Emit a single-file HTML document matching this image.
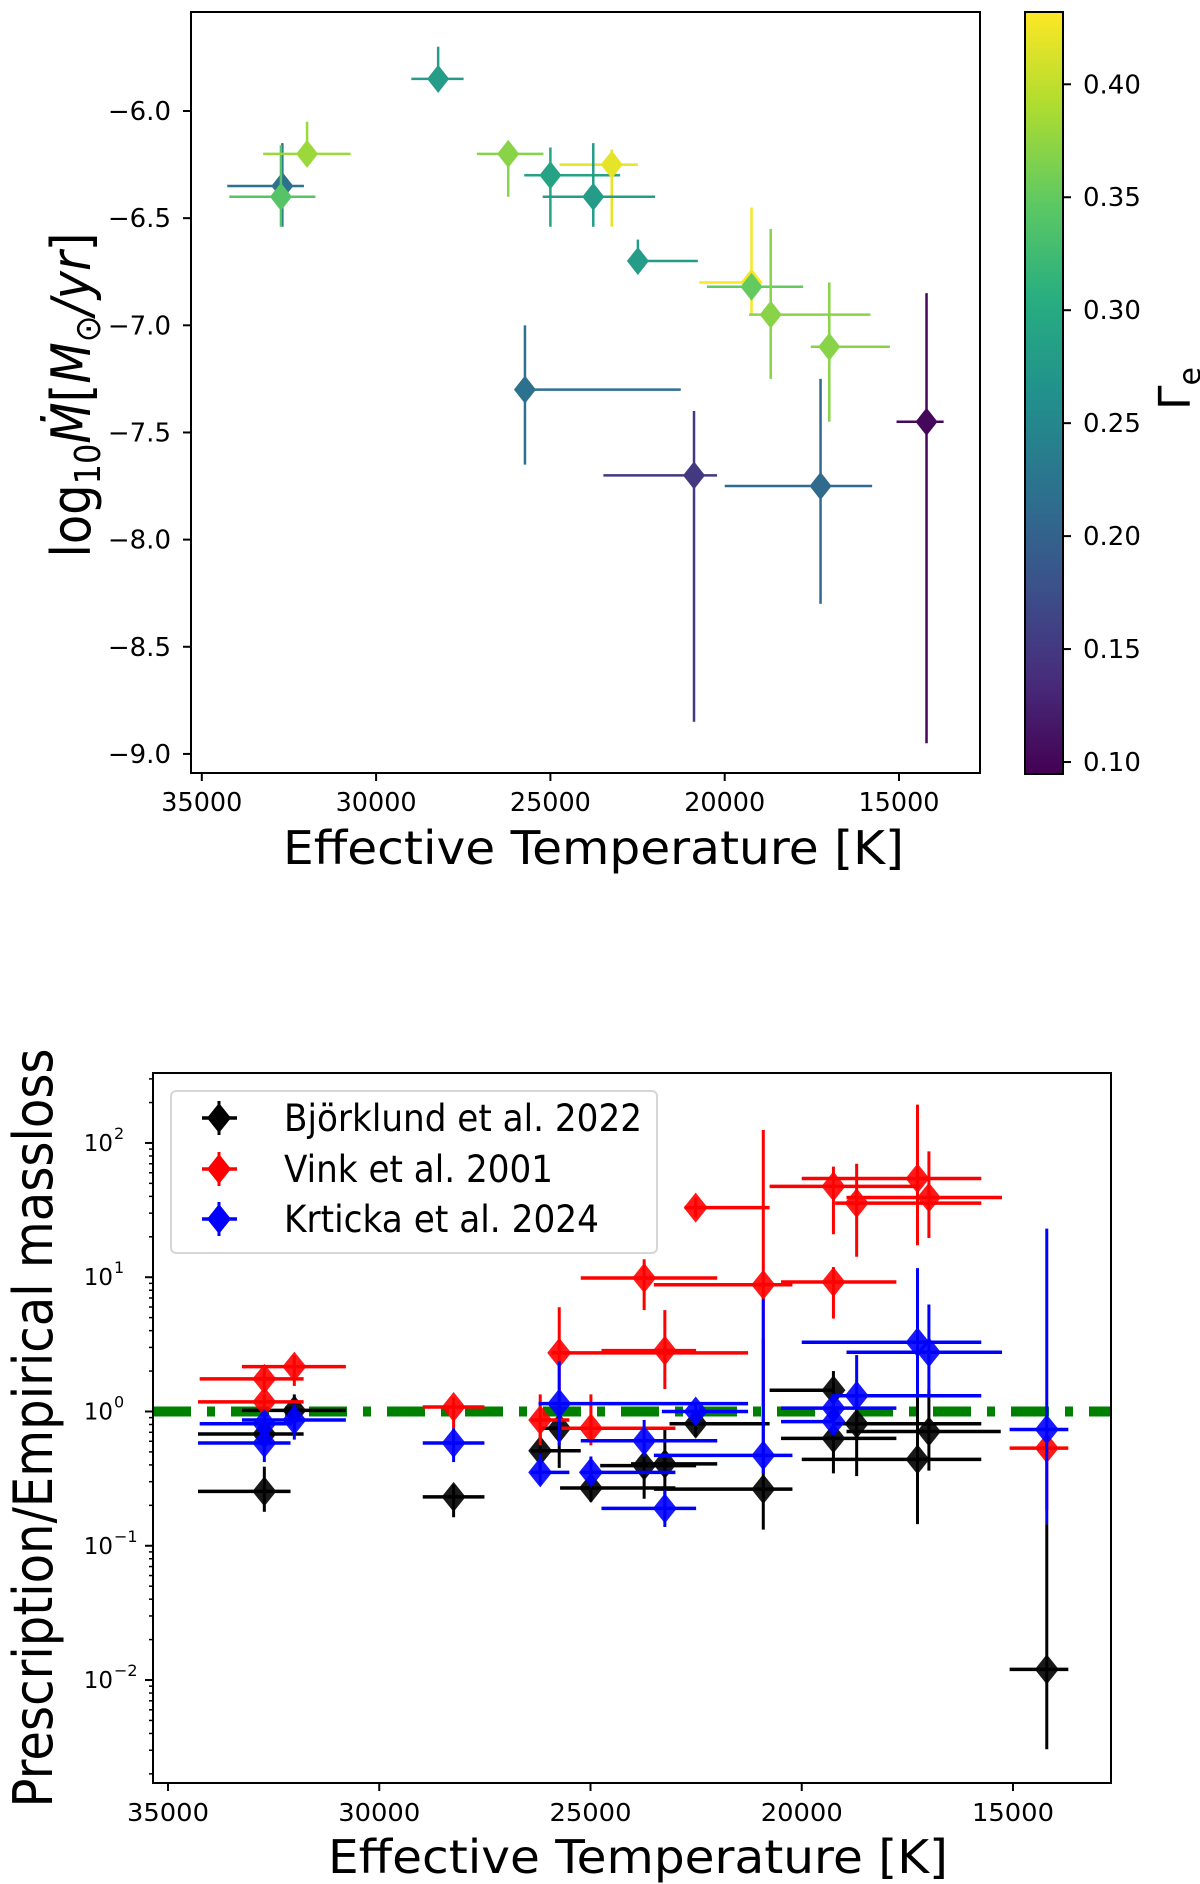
<!DOCTYPE html>
<html><head><meta charset="utf-8"><style>
html,body{margin:0;padding:0;background:#fff;}
svg{display:block;font-family:"DejaVu Sans","Liberation Sans",sans-serif;}
</style></head><body>
<svg id="fig" width="1200" height="1884" viewBox="0 0 1200 1884" xmlns="http://www.w3.org/2000/svg">
<defs>
<linearGradient id="viridis" x1="0" y1="1" x2="0" y2="0">
<stop offset="0" stop-color="#440154"/><stop offset="0.125" stop-color="#472d7b"/><stop offset="0.25" stop-color="#3b528b"/><stop offset="0.375" stop-color="#2c728e"/><stop offset="0.5" stop-color="#21918c"/><stop offset="0.625" stop-color="#28ae80"/><stop offset="0.75" stop-color="#5ec962"/><stop offset="0.875" stop-color="#addc30"/><stop offset="1" stop-color="#fde725"/>
</linearGradient>
</defs>
<g id="top"></g>
<g id="bot"></g>
</svg>
<script>
// ---------- TOP CHART DATA ----------
const topTeff = [32690,32730,31980,28220,26210,25000,23240,23770,22490,19230,19230,18680,17000,25730,20880,17250,14210];
const topTeffMin = [34270,34210,33240,28990,27110,25750,24740,25220,22490,20730,20510,19300,17530,25730,23480,20000,15070];
const topTeffMax = [32070,31740,30730,27490,25200,23000,22490,22000,20770,19230,17750,15820,15260,21260,20220,15770,13720];
const topLogM = [-6.35,-6.40,-6.20,-5.85,-6.20,-6.30,-6.25,-6.40,-6.70,-6.80,-6.82,-6.95,-7.10,-7.30,-7.70,-7.75,-7.45];
const topLogMHi = [-6.15,-6.16,-6.05,-5.70,-6.15,-6.17,-6.18,-6.15,-6.60,-6.45,-6.78,-6.55,-6.80,-7.00,-7.40,-7.25,-6.85];
const topLogMLo = [-6.54,-6.54,-6.25,-5.91,-6.40,-6.54,-6.54,-6.54,-6.73,-6.95,-6.88,-7.25,-7.45,-7.65,-8.85,-8.30,-8.95];
const topGamma = [0.22,0.34,0.38,0.28,0.37,0.29,0.42,0.28,0.28,0.43,0.35,0.37,0.37,0.22,0.15,0.21,0.10];
const topXTicks = [35000,30000,25000,20000,15000];
const topYTicks = [-6.0,-6.5,-7.0,-7.5,-8.0,-8.5,-9.0];
const cbTicks = [0.10,0.15,0.20,0.25,0.30,0.35,0.40];

// ---------- BOTTOM CHART DATA ----------
const botTeffB = [32720,32720,32010,28240,26190,25740,24990,23730,23240,22510,20910,19250,19250,18700,17260,16990,14200];
const botTeffMinB = [34290,34290,33250,28970,26410,26230,25720,24770,24040,23130,23500,20760,20490,19210,20000,18940,15080];
const botTeffMaxB = [32100,31790,30790,27510,25230,24410,22990,22500,22000,20760,20220,19210,17760,15750,15750,15290,13690];
const botValB = [0.254,0.68,1.02,0.231,0.51,0.75,0.269,0.395,0.407,0.81,0.264,1.44,0.63,0.81,0.44,0.71,0.012];
const botHiB = [0.388,0.82,1.34,0.285,0.75,1.10,0.346,0.588,0.75,0.95,3.51,2.0,0.865,1.156,1.55,1.47,0.145];
const botLoB = [0.179,0.56,0.68,0.163,0.33,0.38,0.213,0.224,0.194,0.65,0.132,1.10,0.346,0.33,0.145,0.363,0.00305];

const botTeffR = [32720,32720,32010,28240,26190,25740,24990,23730,23240,22510,20910,19250,19250,18700,17260,16990,14200];
const botTeffMinR = [34250,34290,33250,28970,26410,25920,25690,25230,24740,22770,23500,20760,20490,19210,20000,18940,15080];
const botTeffMaxR = [31790,31790,30790,27510,25500,21270,22990,22000,22500,20760,20220,17210,17760,15750,15750,15260,13690];
const botValR = [1.75,1.18,2.16,1.08,0.865,2.73,0.75,9.86,2.84,33.0,8.78,47.5,9.21,35.6,54.4,39.2,0.534];
const botHiR = [2.16,1.34,2.63,1.27,1.34,5.97,1.34,13.6,5.69,39.2,125,66.7,11.9,70.0,193,86.5,0.75];
const botLoR = [1.40,0.95,1.55,0.75,0.56,1.34,0.56,5.69,1.47,28.0,1.10,20.9,4.92,14.2,17.3,19.6,0.185];

const botTeffK = [32720,32720,32010,28240,26190,25740,24990,23730,23240,22510,20910,19250,19250,18700,17260,16990,14200];
const botTeffMinK = [34250,34290,33250,28970,26410,26230,25230,25230,24740,23310,23500,20490,20490,19210,20000,18940,15080];
const botTeffMaxK = [32070,32100,30790,27510,25500,21270,22990,22000,22500,21270,20220,17760,19210,15750,15750,15260,13690];
const botValK = [0.81,0.582,0.865,0.582,0.352,1.145,0.352,0.605,0.19,1.0,0.471,1.06,0.84,1.31,3.28,2.76,0.734];
const botHiK = [1.0,0.75,1.156,0.75,0.485,2.38,0.462,0.865,0.259,1.156,6.9,1.34,1.10,2.63,11.7,6.26,23.0];
const botLoK = [0.617,0.42,0.617,0.42,0.285,0.56,0.285,0.462,0.138,0.824,0.346,0.824,0.68,1.05,1.34,1.34,0.145];

const botXTicks = [35000,30000,25000,20000,15000];
const botYTickExps = [-2,-1,0,1,2];
const legendLabels = ["Björklund et al. 2022","Vink et al. 2001","Krticka et al. 2024"];
const refLine = 1;

const NS="http://www.w3.org/2000/svg";
function mk(parent,tag,attrs){const e=document.createElementNS(NS,tag);for(const k in attrs)e.setAttribute(k,attrs[k]);parent.appendChild(e);return e;}

const vir=[[0,"#440154"],[0.125,"#472d7b"],[0.25,"#3b528b"],[0.375,"#2c728e"],[0.5,"#21918c"],[0.625,"#28ae80"],[0.75,"#5ec962"],[0.875,"#addc30"],[1,"#fde725"]];
function hex(h){return [1,3,5].map(i=>parseInt(h.substr(i,2),16));}
function viridis(t){t=Math.max(0,Math.min(1,t));for(let i=0;i<vir.length-1;i++){if(t<=vir[i+1][0]){const f=(t-vir[i][0])/(vir[i+1][0]-vir[i][0]);const a=hex(vir[i][1]),b=hex(vir[i+1][1]);return "rgb("+a.map((v,j)=>Math.round(v+(b[j]-v)*f)).join(",")+")";}}return vir[8][1];}

// ===== TOP =====
(function(){
const g=document.getElementById('top');
const L=191,R=980,T=12,B=773;
const xMin=35310,xMax=12676,yMax=-5.538,yMin=-9.089;
const X=v=>L+(xMin-v)/(xMin-xMax)*(R-L);
const Y=v=>T+(yMax-v)/(yMax-yMin)*(B-T);
const gMin=0.0947,gMax=0.432;
const cbL=1025,cbR=1063,cbT=12,cbB=774;
const G=v=>cbB-(v-gMin)/(gMax-gMin)*(cbB-cbT);
for(let i=0;i<topTeff.length;i++){
  const c=viridis((topGamma[i]-gMin)/(gMax-gMin));
  const pt=mk(g,'g',{});
  
  
  mk(pt,'line',{x1:X(topTeffMin[i]),x2:X(topTeffMax[i]),y1:Y(topLogM[i]),y2:Y(topLogM[i]),stroke:c,'stroke-width':2.5});
  mk(pt,'line',{x1:X(topTeff[i]),x2:X(topTeff[i]),y1:Y(topLogMHi[i]),y2:Y(topLogMLo[i]),stroke:c,'stroke-width':2.5});
  const cx=X(topTeff[i]),cy=Y(topLogM[i]);
  mk(pt,'polygon',{points:`${cx},${cy-14} ${cx+11},${cy} ${cx},${cy+14} ${cx-11},${cy}`,fill:c});
}
const fr=mk(g,'rect',{x:L,y:T,width:R-L,height:B-T,fill:'none',stroke:'#000','stroke-width':2});


topXTicks.forEach(v=>{
  mk(g,'line',{x1:X(v),x2:X(v),y1:B,y2:B+8,stroke:'#000','stroke-width':2});
  const t=mk(g,'text',{x:X(v),y:B+38,'text-anchor':'middle','font-size':26,textLength:81,lengthAdjust:'spacingAndGlyphs'});
  t.textContent=v;
  
  
});
topYTicks.forEach(v=>{
  mk(g,'line',{x1:L-8,x2:L,y1:Y(v),y2:Y(v),stroke:'#000','stroke-width':2});
  const t=mk(g,'text',{x:171,y:Y(v)+9,'text-anchor':'end','font-size':26});
  t.textContent='\u2212'+Math.abs(v).toFixed(1);
  
  
});
const xl=mk(g,'text',{x:(L+R)/2+8,y:864,'text-anchor':'middle','font-size':46,textLength:621,lengthAdjust:'spacingAndGlyphs'});
xl.textContent='Effective Temperature [K]';


const yl=mk(g,'text',{transform:'translate(90,395) rotate(-90)','text-anchor':'middle','font-size':54,textLength:325,lengthAdjust:'spacingAndGlyphs'});
yl.innerHTML='log<tspan font-size="36" dy="10">10</tspan><tspan dy="-10" font-style="italic">Ṁ</tspan>[<tspan font-style="italic">M</tspan><tspan font-size="36" dy="10">⊙</tspan><tspan dy="-10" font-style="italic">/yr</tspan>]';


const cb=mk(g,'rect',{x:cbL,y:cbT,width:cbR-cbL,height:cbB-cbT,fill:'url(#viridis)',stroke:'#000','stroke-width':2});


cbTicks.forEach(v=>{
  mk(g,'line',{x1:cbR,x2:cbR+8,y1:G(v),y2:G(v),stroke:'#000','stroke-width':2});
  const t=mk(g,'text',{x:1083,y:G(v)+9,'font-size':26});
  t.textContent=v.toFixed(2);
  
  
});
const cl=mk(g,'text',{transform:'translate(1190,410) rotate(-90)','font-size':44});
cl.innerHTML='Γ<tspan font-size="30" dy="10">e</tspan>';


})();

// ===== BOTTOM =====
(function(){
const g=document.getElementById('bot');
const L=153,R=1111,T=1073,B=1783;
const xMin=35355,xMax=12680,lMax=2.521,lMin=-2.767;
const X=v=>L+(xMin-v)/(xMin-xMax)*(R-L);
const Y=v=>T+(lMax-Math.log10(v))/(lMax-lMin)*(B-T);
const rl=mk(g,'line',{x1:L,x2:R,y1:Y(refLine),y2:Y(refLine),stroke:'#008000','stroke-width':10,'stroke-dasharray':'38,16,8,16'});


const series=[
 ['bjorklund','#000',botTeffB,botTeffMinB,botTeffMaxB,botValB,botHiB,botLoB],
 ['vink','#ff0000',botTeffR,botTeffMinR,botTeffMaxR,botValR,botHiR,botLoR],
 ['krticka','#0000ff',botTeffK,botTeffMinK,botTeffMaxK,botValK,botHiK,botLoK]];
series.forEach(s=>{
  const sg=mk(g,'g',{});
  
  
  const [n,c,t,tmin,tmax,v,hi,lo]=s;
  for(let i=0;i<t.length;i++){
    mk(sg,'line',{x1:X(tmin[i]),x2:X(tmax[i]),y1:Y(v[i]),y2:Y(v[i]),stroke:c,'stroke-width':3.5});
    mk(sg,'line',{x1:X(t[i]),x2:X(t[i]),y1:Y(hi[i]),y2:Y(lo[i]),stroke:c,'stroke-width':3});
    const cx=X(t[i]),cy=Y(v[i]);
    mk(sg,'polygon',{points:`${cx},${cy-15} ${cx+12},${cy} ${cx},${cy+15} ${cx-12},${cy}`,fill:c,'fill-opacity':0.9});
  }
});
const fr=mk(g,'rect',{x:L,y:T,width:R-L,height:B-T,fill:'none',stroke:'#000','stroke-width':2});


botXTicks.forEach(v=>{
  mk(g,'line',{x1:X(v),x2:X(v),y1:B,y2:B+8,stroke:'#000','stroke-width':2});
  const t=mk(g,'text',{x:X(v),y:B+38,'text-anchor':'middle','font-size':25,textLength:82,lengthAdjust:'spacingAndGlyphs'});
  t.textContent=v;
  
  
});
botYTickExps.forEach(e=>{
  const yy=Y(Math.pow(10,e));
  mk(g,'line',{x1:L-8,x2:L,y1:yy,y2:yy,stroke:'#000','stroke-width':2});
  for(let m=2;m<=9;m++){const ym=Y(m*Math.pow(10,e));if(ym>T&&ym<B)mk(g,'line',{x1:L-4,x2:L,y1:ym,y2:ym,stroke:'#000','stroke-width':1.5});}
  for(let m=2;m<=9;m++){const ym=Y(m*Math.pow(10,e-1));if(e===-2&&ym>T&&ym<B)mk(g,'line',{x1:L-4,x2:L,y1:ym,y2:ym,stroke:'#000','stroke-width':1.5});}
  const t=mk(g,'text',{x:113,y:yy+8,'text-anchor':'end','font-size':23});
  t.textContent='10';
  
  
  const s=mk(g,'text',{x:114,y:yy-4,'font-size':16});
  s.textContent=(e<0?'\u2212':'')+Math.abs(e);
  
  
});
const xl=mk(g,'text',{x:(L+R)/2+6,y:1873,'text-anchor':'middle','font-size':46,textLength:620,lengthAdjust:'spacingAndGlyphs'});
xl.textContent='Effective Temperature [K]';


const yl=mk(g,'text',{transform:'translate(52,1428) rotate(-90)','text-anchor':'middle','font-size':54,textLength:759,lengthAdjust:'spacingAndGlyphs'});
yl.textContent='Prescription/Empirical massloss';


const lg=mk(g,'g',{});


mk(lg,'rect',{x:171,y:1091,width:486,height:162,rx:5,fill:'#fff','fill-opacity':0.85,stroke:'#d6d6d6','stroke-width':2});
const ly=[1118,1169,1219];const lc=['#000','#ff0000','#0000ff'];const lw=[358,269,315];
legendLabels.forEach((lab,i)=>{
  const e=mk(lg,'g',{});
  
  
  mk(e,'line',{x1:202,x2:237,y1:ly[i],y2:ly[i],stroke:lc[i],'stroke-width':3.5});
  mk(e,'line',{x1:219,x2:219,y1:ly[i]-17,y2:ly[i]+17,stroke:lc[i],'stroke-width':3});
  mk(e,'polygon',{points:`219,${ly[i]-15} 231,${ly[i]} 219,${ly[i]+15} 207,${ly[i]}`,fill:lc[i]});
  const t=mk(e,'text',{x:284,y:ly[i]+13,'font-size':37,textLength:lw[i],lengthAdjust:'spacingAndGlyphs'});
  t.textContent=lab;
});
})();
</script>
</body></html>
